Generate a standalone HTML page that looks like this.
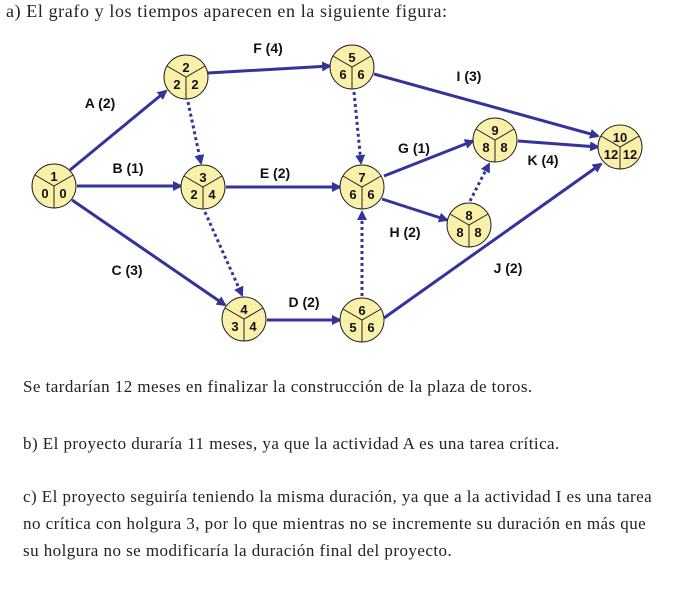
<!DOCTYPE html>
<html><head><meta charset="utf-8"><style>
body{margin:0;background:#fff;width:690px;height:595px;overflow:hidden;position:relative}
.t{position:absolute;left:23px;font-family:"Liberation Serif",serif;font-size:17px;letter-spacing:0.45px;color:#222;white-space:nowrap}
svg{position:absolute;left:0;top:0}
</style></head><body>
<div class="t" style="left:6px;top:1px;font-size:18px;letter-spacing:0.6px">a) El grafo y los tiempos aparecen en la siguiente figura:</div>
<svg width="690" height="370" viewBox="0 0 690 370" font-family="Liberation Sans, sans-serif" font-weight="bold">
<defs><marker id="ar" markerWidth="10" markerHeight="10" refX="8" refY="5" orient="auto" markerUnits="userSpaceOnUse"><path d="M0,0 L10,5 L0,10 Z" fill="#33339a"/></marker></defs>
<g stroke="#33339a" stroke-width="3" fill="none" marker-end="url(#ar)">
<line x1="70" y1="170" x2="166" y2="91"/>
<line x1="208" y1="73" x2="330" y2="66"/>
<line x1="374" y1="74" x2="598" y2="136"/>
<line x1="77" y1="186" x2="181" y2="186"/>
<line x1="226" y1="187" x2="340" y2="187"/>
<line x1="72" y1="200" x2="225" y2="305"/>
<line x1="267" y1="320" x2="340" y2="320"/>
<line x1="384" y1="176" x2="473" y2="141"/>
<line x1="382" y1="199" x2="447" y2="220"/>
<line x1="518" y1="141" x2="598" y2="147"/>
<line x1="384" y1="318" x2="601" y2="164"/>
</g>
<g stroke="#33339a" stroke-width="3" stroke-dasharray="3,3" fill="none" marker-end="url(#ar)">
<line x1="188" y1="102" x2="201" y2="163"/>
<line x1="205" y1="212" x2="242" y2="295"/>
<line x1="354" y1="92" x2="361" y2="163"/>
<line x1="362" y1="296" x2="362" y2="212"/>
<line x1="470" y1="201" x2="489" y2="164"/>
</g>
<g font-size="14" fill="#111" text-anchor="middle">
<text x="100" y="108">A (2)</text><text x="268" y="53">F (4)</text><text x="469" y="81">I (3)</text>
<text x="128" y="173">B (1)</text><text x="275" y="178">E (2)</text><text x="127" y="275">C (3)</text>
<text x="304" y="307">D (2)</text><text x="414" y="153">G (1)</text><text x="405" y="237">H (2)</text>
<text x="543" y="165">K (4)</text><text x="508" y="273">J (2)</text>
</g>
<g font-size="13" fill="#111" text-anchor="middle">
<g transform="translate(54,186)"><circle r="22" fill="#f9f1a9" stroke="#222"/><path d="M-19,-11L0,0L19,-11M0,0V22" stroke="#222" fill="none"/><text y="-5">1</text><text x="-9" y="12">0</text><text x="9" y="12">0</text></g>
<g transform="translate(186,77)"><circle r="22" fill="#f9f1a9" stroke="#222"/><path d="M-19,-11L0,0L19,-11M0,0V22" stroke="#222" fill="none"/><text y="-5">2</text><text x="-9" y="12">2</text><text x="9" y="12">2</text></g>
<g transform="translate(203,187)"><circle r="22" fill="#f9f1a9" stroke="#222"/><path d="M-19,-11L0,0L19,-11M0,0V22" stroke="#222" fill="none"/><text y="-5">3</text><text x="-9" y="12">2</text><text x="9" y="12">4</text></g>
<g transform="translate(244,319)"><circle r="22" fill="#f9f1a9" stroke="#222"/><path d="M-19,-11L0,0L19,-11M0,0V22" stroke="#222" fill="none"/><text y="-5">4</text><text x="-9" y="12">3</text><text x="9" y="12">4</text></g>
<g transform="translate(352,67)"><circle r="22" fill="#f9f1a9" stroke="#222"/><path d="M-19,-11L0,0L19,-11M0,0V22" stroke="#222" fill="none"/><text y="-5">5</text><text x="-9" y="12">6</text><text x="9" y="12">6</text></g>
<g transform="translate(362,187)"><circle r="22" fill="#f9f1a9" stroke="#222"/><path d="M-19,-11L0,0L19,-11M0,0V22" stroke="#222" fill="none"/><text y="-5">7</text><text x="-9" y="12">6</text><text x="9" y="12">6</text></g>
<g transform="translate(362,320)"><circle r="22" fill="#f9f1a9" stroke="#222"/><path d="M-19,-11L0,0L19,-11M0,0V22" stroke="#222" fill="none"/><text y="-5">6</text><text x="-9" y="12">5</text><text x="9" y="12">6</text></g>
<g transform="translate(495,140)"><circle r="22" fill="#f9f1a9" stroke="#222"/><path d="M-19,-11L0,0L19,-11M0,0V22" stroke="#222" fill="none"/><text y="-5">9</text><text x="-9" y="12">8</text><text x="9" y="12">8</text></g>
<g transform="translate(469,225)"><circle r="22" fill="#f9f1a9" stroke="#222"/><path d="M-19,-11L0,0L19,-11M0,0V22" stroke="#222" fill="none"/><text y="-5">8</text><text x="-9" y="12">8</text><text x="9" y="12">8</text></g>
<g transform="translate(620,147)"><circle r="22" fill="#f9f1a9" stroke="#222"/><path d="M-19,-11L0,0L19,-11M0,0V22" stroke="#222" fill="none"/><text y="-5">10</text><text x="-9" y="12">12</text><text x="10" y="12">12</text></g>
</g>
</svg>
<div class="t" style="top:377px">Se tardarían 12 meses en finalizar la construcción de la plaza de toros.</div>
<div class="t" style="top:434px">b) El proyecto duraría 11 meses, ya que la actividad A es una tarea crítica.</div>
<div class="t" style="top:487px">c) El proyecto seguiría teniendo la misma duración, ya que a la actividad I es una tarea</div>
<div class="t" style="top:514px">no crítica con holgura 3, por lo que mientras no se incremente su duración en más que</div>
<div class="t" style="top:541px">su holgura no se modificaría la duración final del proyecto.</div>
</body></html>
